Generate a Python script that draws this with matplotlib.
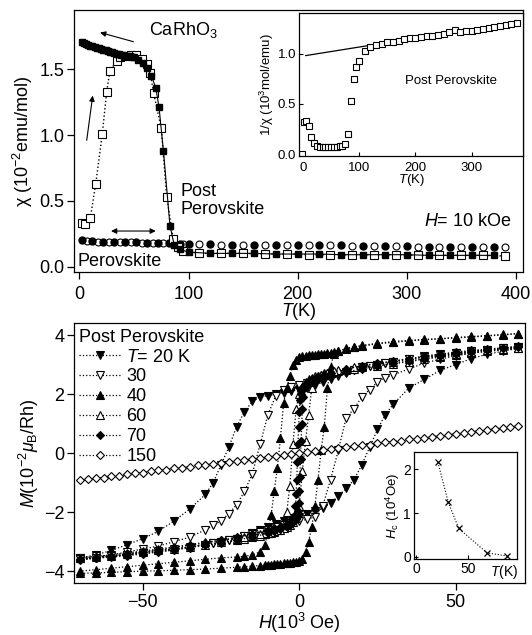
import matplotlib
matplotlib.use("Agg")
import matplotlib.pyplot as plt
from matplotlib.ticker import FormatStrFormatter

plt.rcParams['font.family'] = ['Liberation Sans', 'DejaVu Sans']
plt.rcParams['mathtext.fontset'] = 'custom'
plt.rcParams['mathtext.rm'] = 'Liberation Sans'
plt.rcParams['mathtext.it'] = 'Liberation Sans:italic'
plt.rcParams['mathtext.bf'] = 'Liberation Sans:bold'
plt.rcParams['axes.linewidth'] = 0.9

# ---- top panel: chi(T), H = 10 kOe ----
# perovskite (circles)
T_pf = [2, 12, 22, 32, 42, 52, 62, 72, 82, 92, 100, 120, 140, 160, 180, 200, 220, 240, 260, 280, 300, 320, 340, 360, 380]
chi_pf = [0.20, 0.195, 0.19, 0.19, 0.185, 0.185, 0.18, 0.18, 0.18, 0.175, 0.17, 0.17, 0.165, 0.165, 0.165, 0.16, 0.16, 0.16,
          0.155, 0.155, 0.155, 0.15, 0.15, 0.15, 0.15]
T_po = [7, 17, 27, 37, 47, 57, 67, 77, 87, 95, 110, 130, 150, 170, 190, 210, 230, 250, 270, 290, 310, 330, 350, 370, 390]
chi_po = [0.195, 0.19, 0.19, 0.185, 0.185, 0.18, 0.18, 0.18, 0.175, 0.17, 0.17, 0.165, 0.165, 0.165, 0.16, 0.16, 0.16,
          0.155, 0.155, 0.155, 0.15, 0.15, 0.15, 0.15, 0.15]

# post perovskite (squares), filled and open
T_sf = [2, 4, 6, 8, 10, 12, 14, 16, 18, 20, 22, 24, 26, 28, 30, 32, 34, 36, 38, 40, 42, 44, 46, 48, 50,
        54, 58, 62, 66, 70, 73, 77, 83, 87, 92, 100, 120, 140, 160, 180, 200, 220, 240, 260, 280, 300,
        320, 340, 360, 380]
chi_sf = [1.71, 1.70, 1.69, 1.685, 1.68, 1.675, 1.67, 1.665, 1.66, 1.655, 1.65, 1.645, 1.64, 1.635, 1.63,
          1.625, 1.62, 1.615, 1.61, 1.61, 1.605, 1.60, 1.60, 1.595, 1.59, 1.57, 1.55, 1.51, 1.45, 1.36,
          1.21, 0.88, 0.31, 0.16, 0.13, 0.11, 0.10, 0.10, 0.10, 0.095, 0.095, 0.095, 0.09, 0.09, 0.09,
          0.09, 0.085, 0.085, 0.085, 0.085]
T_so = [2, 5, 10, 15, 21, 25, 28, 34, 37, 42, 47, 52, 57, 62, 65, 68, 75, 80, 86, 90, 95, 110, 130, 150,
        170, 190, 210, 230, 250, 270, 290, 310, 330, 350, 370, 390]
chi_so = [0.33, 0.32, 0.37, 0.63, 1.01, 1.33, 1.49, 1.56, 1.59, 1.60, 1.61, 1.61, 1.58, 1.54, 1.47, 1.32,
          1.055, 0.53, 0.21, 0.15, 0.12, 0.10, 0.10, 0.10, 0.095, 0.095, 0.09, 0.09, 0.09, 0.09, 0.09,
          0.085, 0.085, 0.085, 0.085, 0.08]

# inset: 1/chi
T_inv = [-2, 2, 5, 11, 15, 19, 25, 30, 35, 40, 45, 50, 55, 60, 65, 70, 75, 80, 85, 91, 95, 100, 110, 119,
         130, 140, 150, 160, 170, 180, 190, 200, 210, 220, 230, 240, 250, 260, 270, 280, 290, 300, 310,
         320, 330, 340, 350, 360, 370, 380]
inv_chi = [0.0, 0.32, 0.33, 0.28, 0.17, 0.11, 0.08, 0.07, 0.07, 0.07, 0.07, 0.07, 0.07, 0.07, 0.08, 0.08,
           0.10, 0.20, 0.53, 0.75, 0.87, 0.93, 1.03, 1.07, 1.09, 1.10, 1.12, 1.12, 1.13, 1.14, 1.15, 1.15,
           1.16, 1.17, 1.17, 1.18, 1.19, 1.21, 1.23, 1.21, 1.22, 1.22, 1.23, 1.24, 1.25, 1.26, 1.27, 1.28,
           1.29, 1.30]
T_fit = [5, 385]
inv_fit = [0.98, 1.32]

# ---- bottom panel: M(H) loops, post perovskite ----
H_wide = [70, 65, 60, 55, 50, 45, 40, 35, 30, 27.5, 25, 22.5, 20, 17.5, 15, 12.5, 10, 7.5, 5, 2.5, 0,
          -2.5, -5, -7.5, -10, -12.5, -15, -17.5, -20, -22.5, -25, -27.5, -30, -35, -40, -45, -50, -55,
          -60, -65, -70]
M20_dn = [3.6, 3.55, 3.5, 3.45, 3.4, 3.35, 3.28, 3.2, 3.1, 3.05, 3.0, 2.95, 2.9, 2.8, 2.7, 2.6, 2.5, 2.4,
          2.3, 2.2, 2.15, 2.1, 2.05, 2.0, 1.95, 1.9, 1.75, 1.4, 0.9, 0.2, -0.4, -1.0, -1.4, -1.9, -2.3,
          -2.65, -2.9, -3.1, -3.3, -3.45, -3.55]
M20_up = [3.55, 3.45, 3.35, 3.2, 3.0, 2.8, 2.5, 2.2, 1.65, 1.3, 0.8, 0.2, -0.4, -0.9, -1.2, -1.45, -1.7,
          -1.85, -1.95, -2.05, -2.15, -2.2, -2.3, -2.4, -2.5, -2.6, -2.7, -2.8, -2.9, -2.95, -3.0, -3.05,
          -3.1, -3.2, -3.28, -3.35, -3.4, -3.45, -3.5, -3.55, -3.6]
M30_dn = [3.6, 3.55, 3.5, 3.45, 3.38, 3.32, 3.25, 3.18, 3.1, 3.05, 3.0, 2.95, 2.9, 2.82, 2.75, 2.68, 2.6,
          2.5, 2.45, 2.38, 2.3, 2.25, 2.15, 1.95, 1.3, 0.3, -0.7, -1.3, -1.75, -2.05, -2.3, -2.45, -2.6,
          -2.85, -3.0, -3.15, -3.25, -3.35, -3.45, -3.5, -3.55]
M30_up = [3.55, 3.5, 3.45, 3.38, 3.3, 3.18, 3.05, 2.85, 2.65, 2.55, 2.4, 2.15, 1.9, 1.5, 1.2, 0.1, -0.9,
          -1.8, -2.15, -2.25, -2.3, -2.38, -2.45, -2.5, -2.6, -2.68, -2.75, -2.82, -2.9, -2.95, -3.0,
          -3.05, -3.1, -3.18, -3.25, -3.32, -3.38, -3.45, -3.5, -3.55, -3.6]

H_mid = [70, 65, 60, 55, 50, 45, 40, 35, 30, 25, 20, 17.5, 15, 12.5, 11, 10, 9, 8, 7, 6, 5, 4, 3, 2, 1, 0,
         -1, -2, -3, -4, -5, -6, -7, -8, -9, -10, -11, -12.5, -15, -17.5, -20, -25, -30, -35, -40, -45,
         -50, -55, -60, -65, -70]
M40_dn = [4.05, 4.0, 3.97, 3.93, 3.9, 3.87, 3.84, 3.8, 3.75, 3.7, 3.62, 3.58, 3.52, 3.47, 3.43, 3.4, 3.38,
          3.36, 3.35, 3.34, 3.33, 3.32, 3.31, 3.3, 3.28, 3.25, 3.15, 3.0, 2.6, 2.2, 1.7, 0.5, -0.5, -1.3,
          -2.1, -2.7, -3.1, -3.35, -3.45, -3.5, -3.52, -3.55, -3.6, -3.65, -3.7, -3.75, -3.8, -3.85, -3.9,
          -3.95, -4.0]
M40_up = [4.05, 4.02, 3.98, 3.95, 3.92, 3.88, 3.85, 3.82, 3.78, 3.72, 3.65, 3.6, 3.55, 3.45, 3.35, 2.9,
          2.2, 0.9, 0.1, -0.9, -1.8, -2.5, -3.0, -3.35, -3.6, -3.65, -3.68, -3.7, -3.72, -3.73, -3.74,
          -3.75, -3.76, -3.77, -3.78, -3.79, -3.8, -3.81, -3.83, -3.85, -3.87, -3.9, -3.93, -3.95, -3.97,
          -3.99, -4.0, -4.02, -4.04, -4.06, -4.08]
M60_dn = [3.55, 3.5, 3.45, 3.38, 3.32, 3.25, 3.18, 3.1, 3.02, 2.95, 2.9, 2.85, 2.82, 2.78, 2.75, 2.72, 2.7,
          2.68, 2.65, 2.62, 2.6, 2.55, 2.5, 2.4, 2.25, 2.0, 1.5, 0.3, -1.1, -2.0, -2.4, -2.55, -2.62, -2.66,
          -2.7, -2.72, -2.75, -2.8, -2.85, -2.9, -2.95, -3.02, -3.1, -3.18, -3.25, -3.3, -3.35, -3.42,
          -3.48, -3.52, -3.57]
M60_up = [3.57, 3.52, 3.48, 3.42, 3.35, 3.3, 3.25, 3.18, 3.1, 3.02, 2.95, 2.9, 2.85, 2.8, 2.77, 2.75, 2.72,
          2.7, 2.66, 2.62, 2.55, 2.2, 1.3, 0.4, -0.6, -1.8, -2.2, -2.35, -2.45, -2.5, -2.55, -2.6, -2.62,
          -2.65, -2.68, -2.7, -2.72, -2.75, -2.8, -2.85, -2.9, -2.95, -3.02, -3.1, -3.18, -3.25, -3.32,
          -3.38, -3.45, -3.5, -3.55]

H_fine = [70, 65, 60, 55, 50, 45, 40, 35, 30, 25, 20, 15, 10, 8, 6, 4, 3, 2, 1.5, 1.2, 1.0, 0.8, 0.6, 0.4,
          0.2, 0, -0.2, -0.4, -0.6, -0.8, -1.0, -1.2, -1.5, -2, -3, -4, -6, -8, -10, -15, -20, -25, -30,
          -35, -40, -45, -50, -55, -60, -65, -70]
M70_dn = [3.6, 3.55, 3.5, 3.42, 3.35, 3.28, 3.2, 3.12, 3.05, 2.95, 2.85, 2.75, 2.6, 2.55, 2.5, 2.42, 2.38,
          2.32, 2.28, 2.25, 2.22, 2.18, 2.1, 2.0, 1.8, 1.4, 0.9, 0.3, -0.3, -0.9, -1.4, -1.8, -2.1, -2.3,
          -2.45, -2.5, -2.58, -2.65, -2.72, -2.85, -2.95, -3.05, -3.12, -3.2, -3.28, -3.35, -3.42, -3.48,
          -3.52, -3.57, -3.62]
M70_up = [3.62, 3.57, 3.52, 3.48, 3.42, 3.35, 3.28, 3.2, 3.12, 3.05, 2.95, 2.85, 2.72, 2.65, 2.58, 2.5,
          2.45, 2.35, 2.2, 1.9, 1.5, 1.0, 0.4, -0.2, -0.8, -1.3, -1.7, -1.95, -2.1, -2.18, -2.22, -2.25,
          -2.28, -2.32, -2.38, -2.42, -2.5, -2.55, -2.6, -2.75, -2.85, -2.95, -3.05, -3.12, -3.2, -3.28,
          -3.35, -3.42, -3.5, -3.55, -3.6]

H150 = [-70, -67.5, -65, -62.5, -60, -57.5, -55, -52.5, -50, -47.5, -45, -42.5, -40, -37.5, -35, -32.5,
        -30, -27.5, -25, -22.5, -20, -17.5, -15, -12.5, -10, -7.5, -5, -2.5, 0, 2.5, 5, 7.5, 10, 12.5, 15,
        17.5, 20, 22.5, 25, 27.5, 30, 32.5, 35, 37.5, 40, 42.5, 45, 47.5, 50, 52.5, 55, 57.5, 60, 62.5,
        65, 67.5, 70]
M150 = [-0.92, -0.89, -0.86, -0.83, -0.79, -0.76, -0.72, -0.69, -0.66, -0.62, -0.59, -0.56, -0.52, -0.49,
        -0.46, -0.42, -0.39, -0.36, -0.33, -0.29, -0.26, -0.23, -0.2, -0.16, -0.13, -0.1, -0.07, -0.03,
        0.0, 0.03, 0.07, 0.1, 0.13, 0.16, 0.2, 0.23, 0.26, 0.29, 0.33, 0.36, 0.39, 0.42, 0.46, 0.49, 0.52,
        0.56, 0.59, 0.62, 0.66, 0.69, 0.72, 0.75, 0.79, 0.82, 0.85, 0.88, 0.92]

# inset: coercive field
T_hc = [21, 31, 41, 68, 87]
Hc = [2.16, 1.24, 0.65, 0.09, 0.02]

FS = 13

fig = plt.figure(figsize=(5.32, 6.35), dpi=100)

# ================= top panel =================
ax1 = fig.add_axes([0.139, 0.572, 0.845, 0.412])
ax1.plot(T_po, chi_po, 'o', ls='none', mfc='white', mec='k', mew=0.8, ms=5)
ax1.plot(T_pf, chi_pf, 'o', ls='none', color='k', ms=5)
ax1.plot(T_so, chi_so, ls=':', color='k', lw=1, marker='s', mfc='white', mec='k', mew=0.8, ms=5.5)
ax1.plot(T_sf, chi_sf, ls='-', color='k', lw=0.8, marker='s', mfc='k', mec='k', ms=5)

ax1.set_xlim(-5, 407)
ax1.set_ylim(-0.04, 1.95)
ax1.set_xticks([0, 100, 200, 300, 400])
ax1.set_yticks([0, 0.5, 1.0, 1.5])
ax1.yaxis.set_major_formatter(FormatStrFormatter('%.1f'))
ax1.tick_params(direction='out', length=5, width=0.9, labelsize=FS, pad=2)
ax1.tick_params(axis='x', pad=5)
ax1.set_xlabel('$T$(K)', fontsize=FS, labelpad=-1)
ax1.set_ylabel('χ (10$^{-2}$emu/mol)', fontsize=FS, labelpad=3)

ax1.text(64, 1.80, 'CaRhO$_3$', fontsize=FS, va='center')
ax1.text(93, 0.50, 'Post\nPerovskite', fontsize=FS, va='center', linespacing=1.05)
ax1.text(-2, 0.04, 'Perovskite', fontsize=FS, va='center')
ax1.text(396, 0.34, '$H$= 10 kOe', fontsize=FS, ha='right', va='center')

arrow = dict(arrowstyle='-|>', color='k', lw=0.8, mutation_scale=8, shrinkA=0, shrinkB=0)
ax1.annotate('', xy=(19, 1.78), xytext=(49.5, 1.71), arrowprops=arrow)
ax1.annotate('', xy=(12.2, 1.30), xytext=(6.7, 0.96), arrowprops=arrow)
ax1.annotate('', xy=(29, 0.27), xytext=(70, 0.27),
             arrowprops=dict(arrowstyle='<|-|>', color='k', lw=0.8, mutation_scale=8,
                             shrinkA=0, shrinkB=0))

# inset 1/chi
ax1i = fig.add_axes([0.562, 0.754, 0.421, 0.225])
ax1i.plot(T_fit, inv_fit, '-', color='k', lw=0.9)
ax1i.plot(T_inv, inv_chi, 's', ls='none', mfc='white', mec='k', mew=0.8, ms=4.3)
ax1i.set_xlim(-7, 391)
ax1i.set_ylim(-0.02, 1.4)
ax1i.set_xticks([0, 100, 200, 300])
ax1i.set_yticks([0, 0.5, 1.0])
ax1i.yaxis.set_major_formatter(FormatStrFormatter('%.1f'))
ax1i.tick_params(direction='in', length=3, width=0.8, labelsize=9.5, pad=2)
ax1i.tick_params(axis='x', pad=4)
ax1i.set_xlabel('$T$(K)', fontsize=9.5, labelpad=-1)
ax1i.set_ylabel('1/χ (10$^3$mol/emu)', fontsize=9.5, labelpad=1)
ax1i.text(181, 0.73, 'Post Perovskite', fontsize=9.5, va='center')

# ================= bottom panel =================
ax2 = fig.add_axes([0.139, 0.082, 0.847, 0.409])

loops = [
    ('$T$= 20 K', 'v', 'k', H_wide, M20_dn, M20_up, 5.5),
    ('30', 'v', 'white', H_wide, M30_dn, M30_up, 5.5),
    ('40', '^', 'k', H_mid, M40_dn, M40_up, 5.5),
    ('60', '^', 'white', H_mid, M60_dn, M60_up, 5.5),
    ('70', 'D', 'k', H_fine, M70_dn, M70_up, 4.2),
]
for label, mk, face, H, m_dn, m_up, size in loops:
    style = dict(ls=':', color='k', lw=0.9, marker=mk, mfc=face, mec='k', mew=0.8, ms=size)
    ax2.plot(H, m_dn, label=label, **style)
    ax2.plot(H, m_up, **style)
ax2.plot(H150, M150, ls=':', color='k', lw=0.9, marker='D', mfc='white', mec='k', mew=0.8, ms=4.2,
         label='150')

ax2.set_xlim(-72, 72)
ax2.set_ylim(-4.4, 4.4)
ax2.set_xticks([-50, 0, 50])
ax2.set_yticks([-4, -2, 0, 2, 4])
ax2.tick_params(direction='out', length=5, width=0.9, labelsize=FS, pad=2)
ax2.tick_params(axis='x', pad=3)
ax2.set_xlabel('$H$(10$^3$ Oe)', fontsize=FS, labelpad=0)
ax2.set_ylabel('$M$(10$^{-2}$$\\mu_{\\rm B}$/Rh)', fontsize=FS, labelpad=2)

leg = ax2.legend(loc='upper left', bbox_to_anchor=(0.0, 1.0), frameon=False, title='Post Perovskite',
                 alignment='left', fontsize=FS, title_fontsize=FS, handlelength=2.3,
                 handletextpad=0.3, labelspacing=0.16, borderaxespad=0.1, borderpad=0.2)

# inset Hc(T)
ax2i = fig.add_axes([0.778, 0.119, 0.194, 0.169])
ax2i.plot(T_hc, Hc, ls=':', color='k', lw=0.8, marker='x', ms=5, mew=0.9)
ax2i.set_xlim(-2, 97)
ax2i.set_ylim(-0.06, 2.39)
ax2i.set_xticks([0, 50])
ax2i.set_yticks([0, 1, 2])
ax2i.tick_params(direction='in', length=3, width=0.8, labelsize=10, pad=2)
ax2i.set_ylabel('$H_{\\rm c}$ (10$^4$Oe)', fontsize=9.5, labelpad=1)
ax2i.text(0.87, -0.03, '$T$(K)', transform=ax2i.transAxes, fontsize=10, ha='center', va='top')

fig.savefig('out.png', dpi=100)
